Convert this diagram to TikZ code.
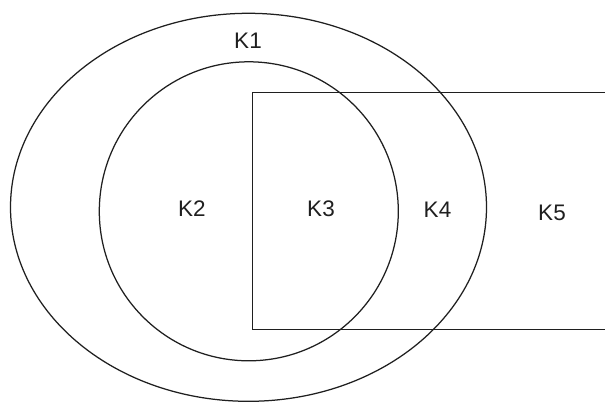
\documentclass[tikz,border=0pt]{standalone}
\usepackage{fontspec}
\setmainfont{Liberation Sans}
\begin{document}
\begin{tikzpicture}[x=1pt,y=-1pt,
  shape line/.style={draw=black!88, line width=1.25pt},
  region label/.style={inner sep=0pt, font=\fontsize{22.5}{26}\selectfont, text=black!88}]
\useasboundingbox (0,0) rectangle (605,402);
\fill[white] (0,0) rectangle (605,402);
\begin{scope}
\clip (0,0) rectangle (605,402);
\draw[shape line] (248.5,207.3) ellipse [x radius=238, y radius=194];
\draw[shape line] (248.8,211.3) circle [radius=149.5];
\draw[shape line] (610,92.8) -- (252.7,92.8) -- (252.7,329.8) -- (610,329.8);
\end{scope}
\node[region label] (k1) at (248,40.5) {K1};
\node[region label] (k2) at (192,209) {K2};
\node[region label] (k3) at (321,209) {K3};
\node[region label] (k4) at (437.5,210) {K4};
\node[region label] (k5) at (552,213) {K5};
\end{tikzpicture}
\end{document}
